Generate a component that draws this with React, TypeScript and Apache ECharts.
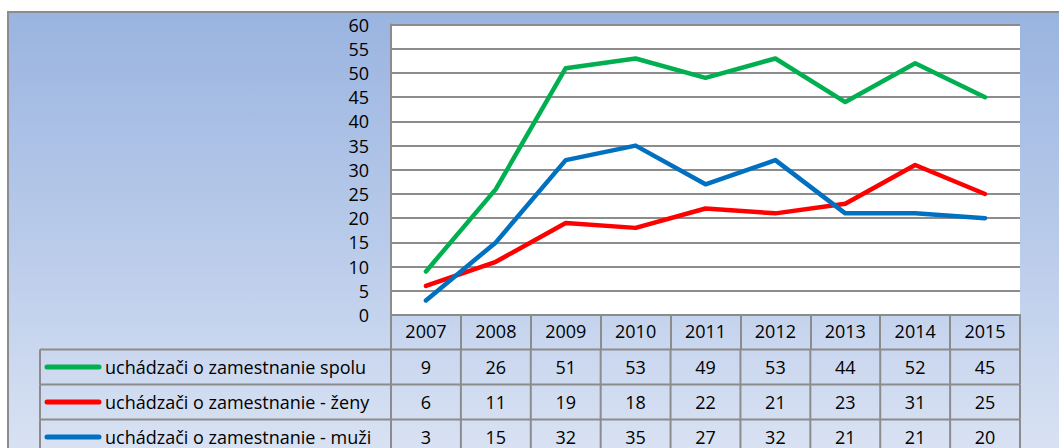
import React, { useEffect, useRef } from "react";
import * as echarts from "echarts";

const years = ["2007", "2008", "2009", "2010", "2011", "2012", "2013", "2014", "2015"];
const seriesNames = [
  "uchádzači o zamestnanie spolu",
  "uchádzači o zamestnanie - ženy",
  "uchádzači o zamestnanie - muži",
];
const spolu = [9, 26, 51, 53, 49, 53, 44, 52, 45];
const zeny = [6, 11, 19, 18, 22, 21, 23, 31, 25];
const muzi = [3, 15, 32, 35, 27, 32, 21, 21, 20];
const seriesColors = ["#00b050", "#ff0000", "#0070c0"];

const FONT = "'Open Sans', Lato, sans-serif";
const FS = 18;
const GRID_LEFT = 391;
const GRID_RIGHT = 1020;
const GRID_TOP = 24.6;
const GRID_BOTTOM = 315;
const ROW_H = 35;
const HEADER_BOTTOM = 349.5;
const LEGEND_LEFT = 40;
const BORDER = "#8c8c8c";

export default function App() {
  const ref = useRef<HTMLDivElement>(null);

  useEffect(() => {
    if (!ref.current) return;
    const chart = echarts.init(ref.current, null, { renderer: "svg" });
    const values = [spolu, zeny, muzi];
    const colW = (GRID_RIGHT - GRID_LEFT) / years.length;

    const graphics: any[] = [];
    graphics.push({
      type: "line",
      shape: { x1: GRID_LEFT, y1: HEADER_BOTTOM, x2: GRID_RIGHT, y2: HEADER_BOTTOM },
      style: { stroke: BORDER, lineWidth: 2 },
      z: 10,
    });
    graphics.push({
      type: "line",
      shape: { x1: GRID_RIGHT, y1: GRID_BOTTOM, x2: GRID_RIGHT, y2: HEADER_BOTTOM },
      style: { stroke: BORDER, lineWidth: 2 },
      z: 10,
    });
    values.forEach((vals, r) => {
      const top = HEADER_BOTTOM + r * ROW_H;
      const bottom = top + ROW_H;
      const cy = top + ROW_H / 2;
      graphics.push({
        type: "line",
        shape: { x1: LEGEND_LEFT, y1: bottom, x2: GRID_RIGHT, y2: bottom },
        style: { stroke: BORDER, lineWidth: 2 },
        z: 10,
      });
      if (r === 0) {
        graphics.push({
          type: "line",
          shape: { x1: LEGEND_LEFT, y1: top, x2: GRID_LEFT, y2: top },
          style: { stroke: BORDER, lineWidth: 2 },
          z: 10,
        });
      }
      const xs = [LEGEND_LEFT];
      for (let i = 0; i <= years.length; i++) xs.push(GRID_LEFT + i * colW);
      xs.forEach((x) => {
        graphics.push({
          type: "line",
          shape: { x1: x, y1: top, x2: x, y2: bottom },
          style: { stroke: BORDER, lineWidth: 2 },
          z: 10,
        });
      });
      graphics.push({
        type: "line",
        shape: { x1: 47, y1: cy, x2: 99, y2: cy },
        style: { stroke: seriesColors[r], lineWidth: 5, lineCap: "round" },
        z: 11,
      });
      graphics.push({
        type: "text",
        x: 105,
        y: cy,
        style: {
          text: seriesNames[r],
          font: `${FS}px ${FONT}`,
          fill: "#000",
          textVerticalAlign: "middle",
          verticalAlign: "middle",
        },
        z: 11,
      });
      vals.forEach((v, i) => {
        graphics.push({
          type: "text",
          x: GRID_LEFT + (i + 0.5) * colW,
          y: cy,
          style: {
            text: String(v),
            font: `${FS}px ${FONT}`,
            fill: "#000",
            align: "center",
            textAlign: "center",
            verticalAlign: "middle",
            textVerticalAlign: "middle",
          },
          z: 11,
        });
      });
    });

    chart.setOption({
      animation: false,
      backgroundColor: "transparent",
      grid: {
        left: GRID_LEFT,
        top: GRID_TOP,
        width: GRID_RIGHT - GRID_LEFT,
        height: GRID_BOTTOM - GRID_TOP,
        show: true,
        backgroundColor: "#ffffff",
        borderWidth: 0,
        containLabel: false,
      },
      xAxis: {
        type: "category",
        data: years,
        boundaryGap: true,
        axisLine: { show: true, lineStyle: { color: BORDER, width: 2 } },
        axisTick: {
          show: true,
          inside: false,
          length: HEADER_BOTTOM - GRID_BOTTOM,
          lineStyle: { color: BORDER, width: 2 },
        },
        axisLabel: {
          show: true,
          margin: 7,
          fontSize: FS,
          fontFamily: FONT,
          color: "#000",
          interval: 0,
        },
        splitLine: { show: false },
      },
      yAxis: {
        type: "value",
        min: 0,
        max: 60,
        interval: 5,
        axisLine: { show: true, lineStyle: { color: BORDER, width: 2 } },
        axisTick: { show: false },
        axisLabel: {
          margin: 22,
          fontSize: FS,
          fontFamily: FONT,
          color: "#000",
        },
        splitLine: { show: true, lineStyle: { color: BORDER, width: 2 } },
      },
      series: values.map((vals, r) => ({
        type: "line",
        name: seriesNames[r],
        data: vals,
        symbol: "none",
        lineStyle: { color: seriesColors[r], width: 4.5, cap: "round", join: "round" },
        itemStyle: { color: seriesColors[r] },
        z: 5,
      })),
      graphic: graphics,
    });

    return () => {
      chart.dispose();
    };
  }, []);

  return (
    <div
      style={{
        position: "fixed",
        left: 0,
        top: 0,
        width: 1059,
        height: 448,
        background: "#ffffff",
        overflow: "hidden",
      }}
    >
      <div
        style={{
          position: "absolute",
          left: 6.5,
          top: 11,
          width: 1100,
          height: 500,
          border: `2px solid ${BORDER}`,
          boxSizing: "border-box",
          background: "linear-gradient(to bottom, #9ab4e0 0px, #b9cbea 230px, #d9e2f3 437px)",
        }}
      />
      <div
        ref={ref}
        style={{ position: "absolute", left: 0, top: 0, width: 1059, height: 448 }}
      />
    </div>
  );
}
